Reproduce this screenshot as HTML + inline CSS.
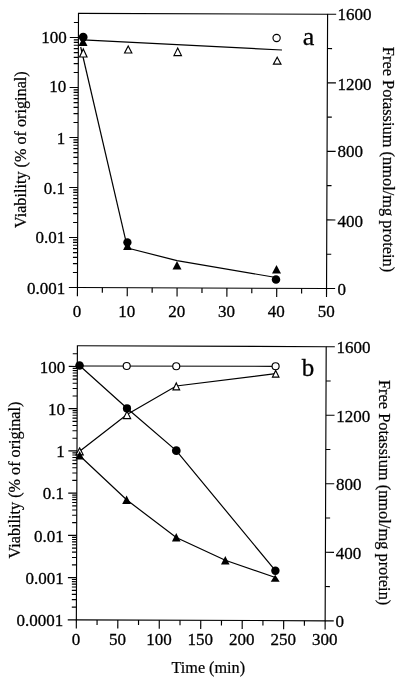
<!DOCTYPE html>
<html><head><meta charset="utf-8"><style>
html,body{margin:0;padding:0;background:#fff;width:400px;height:680px;overflow:hidden}
svg{display:block;filter:grayscale(1)}
text{font-family:"Liberation Serif",serif;fill:#000;stroke:#000;stroke-width:0.3px}
text.t{stroke-width:0.22px}
</style></head><body>
<svg width="400" height="680" viewBox="0 0 400 680">
<g transform="rotate(0.22 78.5 13.3)">
<rect x="78.5" y="13.3" width="249.1" height="274.25" fill="none" stroke="#000" stroke-width="1.15"/>
<line x1="78.50" y1="287.55" x2="78.50" y2="296.15" stroke="#000" stroke-width="1.15"/>
<line x1="128.32" y1="287.55" x2="128.32" y2="296.15" stroke="#000" stroke-width="1.15"/>
<line x1="178.14" y1="287.55" x2="178.14" y2="296.15" stroke="#000" stroke-width="1.15"/>
<line x1="227.96" y1="287.55" x2="227.96" y2="296.15" stroke="#000" stroke-width="1.15"/>
<line x1="277.78" y1="287.55" x2="277.78" y2="296.15" stroke="#000" stroke-width="1.15"/>
<line x1="327.60" y1="287.55" x2="327.60" y2="296.15" stroke="#000" stroke-width="1.15"/>
<line x1="103.41" y1="287.55" x2="103.41" y2="292.55" stroke="#000" stroke-width="1.15"/>
<line x1="153.23" y1="287.55" x2="153.23" y2="292.55" stroke="#000" stroke-width="1.15"/>
<line x1="203.05" y1="287.55" x2="203.05" y2="292.55" stroke="#000" stroke-width="1.15"/>
<line x1="252.87" y1="287.55" x2="252.87" y2="292.55" stroke="#000" stroke-width="1.15"/>
<line x1="302.69" y1="287.55" x2="302.69" y2="292.55" stroke="#000" stroke-width="1.15"/>
<line x1="69.90" y1="287.55" x2="78.50" y2="287.55" stroke="#000" stroke-width="1.15"/>
<line x1="73.90" y1="272.50" x2="78.50" y2="272.50" stroke="#000" stroke-width="1.15"/>
<line x1="73.90" y1="263.69" x2="78.50" y2="263.69" stroke="#000" stroke-width="1.15"/>
<line x1="73.90" y1="257.45" x2="78.50" y2="257.45" stroke="#000" stroke-width="1.15"/>
<line x1="73.90" y1="252.60" x2="78.50" y2="252.60" stroke="#000" stroke-width="1.15"/>
<line x1="73.90" y1="248.64" x2="78.50" y2="248.64" stroke="#000" stroke-width="1.15"/>
<line x1="73.90" y1="245.30" x2="78.50" y2="245.30" stroke="#000" stroke-width="1.15"/>
<line x1="73.90" y1="242.40" x2="78.50" y2="242.40" stroke="#000" stroke-width="1.15"/>
<line x1="73.90" y1="239.84" x2="78.50" y2="239.84" stroke="#000" stroke-width="1.15"/>
<line x1="69.90" y1="237.55" x2="78.50" y2="237.55" stroke="#000" stroke-width="1.15"/>
<line x1="73.90" y1="222.50" x2="78.50" y2="222.50" stroke="#000" stroke-width="1.15"/>
<line x1="73.90" y1="213.69" x2="78.50" y2="213.69" stroke="#000" stroke-width="1.15"/>
<line x1="73.90" y1="207.45" x2="78.50" y2="207.45" stroke="#000" stroke-width="1.15"/>
<line x1="73.90" y1="202.60" x2="78.50" y2="202.60" stroke="#000" stroke-width="1.15"/>
<line x1="73.90" y1="198.64" x2="78.50" y2="198.64" stroke="#000" stroke-width="1.15"/>
<line x1="73.90" y1="195.30" x2="78.50" y2="195.30" stroke="#000" stroke-width="1.15"/>
<line x1="73.90" y1="192.40" x2="78.50" y2="192.40" stroke="#000" stroke-width="1.15"/>
<line x1="73.90" y1="189.84" x2="78.50" y2="189.84" stroke="#000" stroke-width="1.15"/>
<line x1="69.90" y1="187.55" x2="78.50" y2="187.55" stroke="#000" stroke-width="1.15"/>
<line x1="73.90" y1="172.50" x2="78.50" y2="172.50" stroke="#000" stroke-width="1.15"/>
<line x1="73.90" y1="163.69" x2="78.50" y2="163.69" stroke="#000" stroke-width="1.15"/>
<line x1="73.90" y1="157.45" x2="78.50" y2="157.45" stroke="#000" stroke-width="1.15"/>
<line x1="73.90" y1="152.60" x2="78.50" y2="152.60" stroke="#000" stroke-width="1.15"/>
<line x1="73.90" y1="148.64" x2="78.50" y2="148.64" stroke="#000" stroke-width="1.15"/>
<line x1="73.90" y1="145.30" x2="78.50" y2="145.30" stroke="#000" stroke-width="1.15"/>
<line x1="73.90" y1="142.40" x2="78.50" y2="142.40" stroke="#000" stroke-width="1.15"/>
<line x1="73.90" y1="139.84" x2="78.50" y2="139.84" stroke="#000" stroke-width="1.15"/>
<line x1="69.90" y1="137.55" x2="78.50" y2="137.55" stroke="#000" stroke-width="1.15"/>
<line x1="73.90" y1="122.50" x2="78.50" y2="122.50" stroke="#000" stroke-width="1.15"/>
<line x1="73.90" y1="113.69" x2="78.50" y2="113.69" stroke="#000" stroke-width="1.15"/>
<line x1="73.90" y1="107.45" x2="78.50" y2="107.45" stroke="#000" stroke-width="1.15"/>
<line x1="73.90" y1="102.60" x2="78.50" y2="102.60" stroke="#000" stroke-width="1.15"/>
<line x1="73.90" y1="98.64" x2="78.50" y2="98.64" stroke="#000" stroke-width="1.15"/>
<line x1="73.90" y1="95.30" x2="78.50" y2="95.30" stroke="#000" stroke-width="1.15"/>
<line x1="73.90" y1="92.40" x2="78.50" y2="92.40" stroke="#000" stroke-width="1.15"/>
<line x1="73.90" y1="89.84" x2="78.50" y2="89.84" stroke="#000" stroke-width="1.15"/>
<line x1="69.90" y1="87.55" x2="78.50" y2="87.55" stroke="#000" stroke-width="1.15"/>
<line x1="73.90" y1="72.50" x2="78.50" y2="72.50" stroke="#000" stroke-width="1.15"/>
<line x1="73.90" y1="63.69" x2="78.50" y2="63.69" stroke="#000" stroke-width="1.15"/>
<line x1="73.90" y1="57.45" x2="78.50" y2="57.45" stroke="#000" stroke-width="1.15"/>
<line x1="73.90" y1="52.60" x2="78.50" y2="52.60" stroke="#000" stroke-width="1.15"/>
<line x1="73.90" y1="48.64" x2="78.50" y2="48.64" stroke="#000" stroke-width="1.15"/>
<line x1="73.90" y1="45.30" x2="78.50" y2="45.30" stroke="#000" stroke-width="1.15"/>
<line x1="73.90" y1="42.40" x2="78.50" y2="42.40" stroke="#000" stroke-width="1.15"/>
<line x1="73.90" y1="39.84" x2="78.50" y2="39.84" stroke="#000" stroke-width="1.15"/>
<line x1="69.90" y1="37.55" x2="78.50" y2="37.55" stroke="#000" stroke-width="1.15"/>
<line x1="73.90" y1="22.50" x2="78.50" y2="22.50" stroke="#000" stroke-width="1.15"/>
<line x1="327.60" y1="287.55" x2="336.20" y2="287.55" stroke="#000" stroke-width="1.15"/>
<line x1="327.60" y1="218.99" x2="336.20" y2="218.99" stroke="#000" stroke-width="1.15"/>
<line x1="327.60" y1="150.43" x2="336.20" y2="150.43" stroke="#000" stroke-width="1.15"/>
<line x1="327.60" y1="81.86" x2="336.20" y2="81.86" stroke="#000" stroke-width="1.15"/>
<line x1="327.60" y1="13.30" x2="336.20" y2="13.30" stroke="#000" stroke-width="1.15"/>
<line x1="327.60" y1="253.27" x2="332.20" y2="253.27" stroke="#000" stroke-width="1.15"/>
<line x1="327.60" y1="184.71" x2="332.20" y2="184.71" stroke="#000" stroke-width="1.15"/>
<line x1="327.60" y1="116.14" x2="332.20" y2="116.14" stroke="#000" stroke-width="1.15"/>
<line x1="327.60" y1="47.58" x2="332.20" y2="47.58" stroke="#000" stroke-width="1.15"/>
</g>
<text x="77.05" y="317.20" text-anchor="middle" font-size="17" >0</text>
<text x="126.87" y="317.20" text-anchor="middle" font-size="17" >10</text>
<text x="176.69" y="317.20" text-anchor="middle" font-size="17" >20</text>
<text x="226.51" y="317.20" text-anchor="middle" font-size="17" >30</text>
<text x="276.33" y="317.20" text-anchor="middle" font-size="17" >40</text>
<text x="326.15" y="317.20" text-anchor="middle" font-size="17" >50</text>
<text x="66.71" y="42.55" text-anchor="end" font-size="17" >100</text>
<text x="66.31" y="92.25" text-anchor="end" font-size="17" >10</text>
<text x="65.22" y="143.75" text-anchor="end" font-size="17" >1</text>
<text x="64.93" y="193.65" text-anchor="end" font-size="17" >0.1</text>
<text x="65.14" y="243.25" text-anchor="end" font-size="17" >0.01</text>
<text x="65.15" y="293.65" text-anchor="end" font-size="17" >0.001</text>
<text x="337.50" y="295.10" text-anchor="start" font-size="17" >0</text>
<text x="337.50" y="226.84" text-anchor="start" font-size="17" >400</text>
<text x="337.50" y="157.18" text-anchor="start" font-size="17" >800</text>
<text x="337.50" y="90.22" text-anchor="start" font-size="17" >1200</text>
<text x="337.50" y="20.06" text-anchor="start" font-size="17" >1600</text>
<text x="302.80" y="44.80" text-anchor="start" font-size="26" >a</text>
<line x1="83.00" y1="39.80" x2="282.00" y2="50.00" stroke="#000" stroke-width="1.2"/>
<polyline points="80.70,47.00 126.20,242.40" fill="none" stroke="#000" stroke-width="1.2"/>
<polyline points="127.40,248.00 177.00,260.60 276.00,277.50" fill="none" stroke="#000" stroke-width="1.2"/>
<polygon points="83.30,48.94 87.04,56.95 79.56,56.95" fill="#fff" stroke="#000" stroke-width="1.15" stroke-linejoin="miter" stroke-miterlimit="10"/>
<polygon points="128.20,45.94 131.84,52.95 124.56,52.95" fill="#fff" stroke="#000" stroke-width="1.15" stroke-linejoin="miter" stroke-miterlimit="10"/>
<polygon points="177.70,48.09 181.44,55.60 173.96,55.60" fill="#fff" stroke="#000" stroke-width="1.15" stroke-linejoin="miter" stroke-miterlimit="10"/>
<polygon points="277.20,57.29 280.99,64.20 273.41,64.20" fill="#fff" stroke="#000" stroke-width="1.15" stroke-linejoin="miter" stroke-miterlimit="10"/>
<circle cx="276.60" cy="38.00" r="3.62" fill="#fff" stroke="#000" stroke-width="1.15"/>
<polygon points="83.00,37.20 87.50,46.00 78.50,46.00" fill="#000"/>
<circle cx="83.20" cy="37.10" r="4.4" fill="#000"/>
<polygon points="127.50,241.50 131.90,250.10 123.10,250.10" fill="#000"/>
<circle cx="127.40" cy="242.40" r="4.15" fill="#000"/>
<polygon points="177.00,261.05 181.50,269.55 172.50,269.55" fill="#000"/>
<polygon points="276.50,265.05 281.00,273.55 272.00,273.55" fill="#000"/>
<circle cx="276.00" cy="279.50" r="4.25" fill="#000"/>
<g transform="rotate(0.22 77.4 345.75)">
<rect x="77.4" y="345.75" width="248.8" height="274.1" fill="none" stroke="#000" stroke-width="1.15"/>
<line x1="77.40" y1="619.85" x2="77.40" y2="628.45" stroke="#000" stroke-width="1.15"/>
<line x1="118.87" y1="619.85" x2="118.87" y2="628.45" stroke="#000" stroke-width="1.15"/>
<line x1="160.33" y1="619.85" x2="160.33" y2="628.45" stroke="#000" stroke-width="1.15"/>
<line x1="201.80" y1="619.85" x2="201.80" y2="628.45" stroke="#000" stroke-width="1.15"/>
<line x1="243.27" y1="619.85" x2="243.27" y2="628.45" stroke="#000" stroke-width="1.15"/>
<line x1="284.73" y1="619.85" x2="284.73" y2="628.45" stroke="#000" stroke-width="1.15"/>
<line x1="326.20" y1="619.85" x2="326.20" y2="628.45" stroke="#000" stroke-width="1.15"/>
<line x1="98.13" y1="619.85" x2="98.13" y2="624.85" stroke="#000" stroke-width="1.15"/>
<line x1="139.60" y1="619.85" x2="139.60" y2="624.85" stroke="#000" stroke-width="1.15"/>
<line x1="181.07" y1="619.85" x2="181.07" y2="624.85" stroke="#000" stroke-width="1.15"/>
<line x1="222.53" y1="619.85" x2="222.53" y2="624.85" stroke="#000" stroke-width="1.15"/>
<line x1="264.00" y1="619.85" x2="264.00" y2="624.85" stroke="#000" stroke-width="1.15"/>
<line x1="305.47" y1="619.85" x2="305.47" y2="624.85" stroke="#000" stroke-width="1.15"/>
<line x1="68.80" y1="619.85" x2="77.40" y2="619.85" stroke="#000" stroke-width="1.15"/>
<line x1="72.80" y1="607.14" x2="77.40" y2="607.14" stroke="#000" stroke-width="1.15"/>
<line x1="72.80" y1="599.70" x2="77.40" y2="599.70" stroke="#000" stroke-width="1.15"/>
<line x1="72.80" y1="594.43" x2="77.40" y2="594.43" stroke="#000" stroke-width="1.15"/>
<line x1="72.80" y1="590.33" x2="77.40" y2="590.33" stroke="#000" stroke-width="1.15"/>
<line x1="72.80" y1="586.99" x2="77.40" y2="586.99" stroke="#000" stroke-width="1.15"/>
<line x1="72.80" y1="584.16" x2="77.40" y2="584.16" stroke="#000" stroke-width="1.15"/>
<line x1="72.80" y1="581.71" x2="77.40" y2="581.71" stroke="#000" stroke-width="1.15"/>
<line x1="72.80" y1="579.55" x2="77.40" y2="579.55" stroke="#000" stroke-width="1.15"/>
<line x1="68.80" y1="577.62" x2="77.40" y2="577.62" stroke="#000" stroke-width="1.15"/>
<line x1="72.80" y1="564.91" x2="77.40" y2="564.91" stroke="#000" stroke-width="1.15"/>
<line x1="72.80" y1="557.47" x2="77.40" y2="557.47" stroke="#000" stroke-width="1.15"/>
<line x1="72.80" y1="552.20" x2="77.40" y2="552.20" stroke="#000" stroke-width="1.15"/>
<line x1="72.80" y1="548.10" x2="77.40" y2="548.10" stroke="#000" stroke-width="1.15"/>
<line x1="72.80" y1="544.76" x2="77.40" y2="544.76" stroke="#000" stroke-width="1.15"/>
<line x1="72.80" y1="541.93" x2="77.40" y2="541.93" stroke="#000" stroke-width="1.15"/>
<line x1="72.80" y1="539.48" x2="77.40" y2="539.48" stroke="#000" stroke-width="1.15"/>
<line x1="72.80" y1="537.32" x2="77.40" y2="537.32" stroke="#000" stroke-width="1.15"/>
<line x1="68.80" y1="535.39" x2="77.40" y2="535.39" stroke="#000" stroke-width="1.15"/>
<line x1="72.80" y1="522.68" x2="77.40" y2="522.68" stroke="#000" stroke-width="1.15"/>
<line x1="72.80" y1="515.24" x2="77.40" y2="515.24" stroke="#000" stroke-width="1.15"/>
<line x1="72.80" y1="509.97" x2="77.40" y2="509.97" stroke="#000" stroke-width="1.15"/>
<line x1="72.80" y1="505.87" x2="77.40" y2="505.87" stroke="#000" stroke-width="1.15"/>
<line x1="72.80" y1="502.53" x2="77.40" y2="502.53" stroke="#000" stroke-width="1.15"/>
<line x1="72.80" y1="499.70" x2="77.40" y2="499.70" stroke="#000" stroke-width="1.15"/>
<line x1="72.80" y1="497.25" x2="77.40" y2="497.25" stroke="#000" stroke-width="1.15"/>
<line x1="72.80" y1="495.09" x2="77.40" y2="495.09" stroke="#000" stroke-width="1.15"/>
<line x1="68.80" y1="493.16" x2="77.40" y2="493.16" stroke="#000" stroke-width="1.15"/>
<line x1="72.80" y1="480.45" x2="77.40" y2="480.45" stroke="#000" stroke-width="1.15"/>
<line x1="72.80" y1="473.01" x2="77.40" y2="473.01" stroke="#000" stroke-width="1.15"/>
<line x1="72.80" y1="467.74" x2="77.40" y2="467.74" stroke="#000" stroke-width="1.15"/>
<line x1="72.80" y1="463.64" x2="77.40" y2="463.64" stroke="#000" stroke-width="1.15"/>
<line x1="72.80" y1="460.30" x2="77.40" y2="460.30" stroke="#000" stroke-width="1.15"/>
<line x1="72.80" y1="457.47" x2="77.40" y2="457.47" stroke="#000" stroke-width="1.15"/>
<line x1="72.80" y1="455.02" x2="77.40" y2="455.02" stroke="#000" stroke-width="1.15"/>
<line x1="72.80" y1="452.86" x2="77.40" y2="452.86" stroke="#000" stroke-width="1.15"/>
<line x1="68.80" y1="450.93" x2="77.40" y2="450.93" stroke="#000" stroke-width="1.15"/>
<line x1="72.80" y1="438.22" x2="77.40" y2="438.22" stroke="#000" stroke-width="1.15"/>
<line x1="72.80" y1="430.78" x2="77.40" y2="430.78" stroke="#000" stroke-width="1.15"/>
<line x1="72.80" y1="425.51" x2="77.40" y2="425.51" stroke="#000" stroke-width="1.15"/>
<line x1="72.80" y1="421.41" x2="77.40" y2="421.41" stroke="#000" stroke-width="1.15"/>
<line x1="72.80" y1="418.07" x2="77.40" y2="418.07" stroke="#000" stroke-width="1.15"/>
<line x1="72.80" y1="415.24" x2="77.40" y2="415.24" stroke="#000" stroke-width="1.15"/>
<line x1="72.80" y1="412.79" x2="77.40" y2="412.79" stroke="#000" stroke-width="1.15"/>
<line x1="72.80" y1="410.63" x2="77.40" y2="410.63" stroke="#000" stroke-width="1.15"/>
<line x1="68.80" y1="408.70" x2="77.40" y2="408.70" stroke="#000" stroke-width="1.15"/>
<line x1="72.80" y1="395.99" x2="77.40" y2="395.99" stroke="#000" stroke-width="1.15"/>
<line x1="72.80" y1="388.55" x2="77.40" y2="388.55" stroke="#000" stroke-width="1.15"/>
<line x1="72.80" y1="383.28" x2="77.40" y2="383.28" stroke="#000" stroke-width="1.15"/>
<line x1="72.80" y1="379.18" x2="77.40" y2="379.18" stroke="#000" stroke-width="1.15"/>
<line x1="72.80" y1="375.84" x2="77.40" y2="375.84" stroke="#000" stroke-width="1.15"/>
<line x1="72.80" y1="373.01" x2="77.40" y2="373.01" stroke="#000" stroke-width="1.15"/>
<line x1="72.80" y1="370.56" x2="77.40" y2="370.56" stroke="#000" stroke-width="1.15"/>
<line x1="72.80" y1="368.40" x2="77.40" y2="368.40" stroke="#000" stroke-width="1.15"/>
<line x1="68.80" y1="366.47" x2="77.40" y2="366.47" stroke="#000" stroke-width="1.15"/>
<line x1="72.80" y1="353.76" x2="77.40" y2="353.76" stroke="#000" stroke-width="1.15"/>
<line x1="326.20" y1="619.85" x2="334.80" y2="619.85" stroke="#000" stroke-width="1.15"/>
<line x1="326.20" y1="551.33" x2="334.80" y2="551.33" stroke="#000" stroke-width="1.15"/>
<line x1="326.20" y1="482.80" x2="334.80" y2="482.80" stroke="#000" stroke-width="1.15"/>
<line x1="326.20" y1="414.28" x2="334.80" y2="414.28" stroke="#000" stroke-width="1.15"/>
<line x1="326.20" y1="345.75" x2="334.80" y2="345.75" stroke="#000" stroke-width="1.15"/>
<line x1="326.20" y1="585.59" x2="330.80" y2="585.59" stroke="#000" stroke-width="1.15"/>
<line x1="326.20" y1="517.06" x2="330.80" y2="517.06" stroke="#000" stroke-width="1.15"/>
<line x1="326.20" y1="448.54" x2="330.80" y2="448.54" stroke="#000" stroke-width="1.15"/>
<line x1="326.20" y1="380.01" x2="330.80" y2="380.01" stroke="#000" stroke-width="1.15"/>
</g>
<text x="75.95" y="644.90" text-anchor="middle" font-size="17" >0</text>
<text x="117.41" y="644.90" text-anchor="middle" font-size="17" >50</text>
<text x="158.88" y="644.90" text-anchor="middle" font-size="17" >100</text>
<text x="200.35" y="644.90" text-anchor="middle" font-size="17" >150</text>
<text x="241.81" y="644.90" text-anchor="middle" font-size="17" >200</text>
<text x="283.28" y="644.90" text-anchor="middle" font-size="17" >250</text>
<text x="324.75" y="644.90" text-anchor="middle" font-size="17" >300</text>
<text x="65.22" y="373.47" text-anchor="end" font-size="17" >100</text>
<text x="65.06" y="414.50" text-anchor="end" font-size="17" >10</text>
<text x="64.70" y="457.23" text-anchor="end" font-size="17" >1</text>
<text x="64.03" y="499.36" text-anchor="end" font-size="17" >0.1</text>
<text x="63.87" y="541.59" text-anchor="end" font-size="17" >0.01</text>
<text x="63.71" y="583.82" text-anchor="end" font-size="17" >0.001</text>
<text x="63.25" y="625.85" text-anchor="end" font-size="17" >0.0001</text>
<text x="335.45" y="627.20" text-anchor="start" font-size="17" >0</text>
<text x="335.71" y="558.68" text-anchor="start" font-size="17" >400</text>
<text x="335.97" y="490.15" text-anchor="start" font-size="17" >800</text>
<text x="336.24" y="421.63" text-anchor="start" font-size="17" >1200</text>
<text x="336.50" y="353.11" text-anchor="start" font-size="17" >1600</text>
<text x="301.70" y="375.80" text-anchor="start" font-size="25" >b</text>
<polyline points="79.75,366.00 275.60,366.30" fill="none" stroke="#000" stroke-width="1.2"/>
<polyline points="80.00,451.00 127.00,414.50 176.25,386.00 275.60,373.60" fill="none" stroke="#000" stroke-width="1.2"/>
<polyline points="79.75,365.75 127.00,408.30 176.25,450.60 275.40,570.60" fill="none" stroke="#000" stroke-width="1.2"/>
<polyline points="80.00,456.00 126.60,499.80 176.25,537.50 225.30,560.30 275.40,577.50" fill="none" stroke="#000" stroke-width="1.2"/>
<circle cx="126.70" cy="366.00" r="3.52" fill="#fff" stroke="#000" stroke-width="1.15"/>
<circle cx="176.25" cy="366.25" r="3.52" fill="#fff" stroke="#000" stroke-width="1.15"/>
<circle cx="275.60" cy="366.25" r="3.52" fill="#fff" stroke="#000" stroke-width="1.15"/>
<polygon points="79.60,447.89 83.24,454.80 75.96,454.80" fill="#fff" stroke="#000" stroke-width="1.15" stroke-linejoin="miter" stroke-miterlimit="10"/>
<polygon points="127.00,411.29 130.64,418.60 123.36,418.60" fill="#fff" stroke="#000" stroke-width="1.15" stroke-linejoin="miter" stroke-miterlimit="10"/>
<polygon points="176.30,382.89 179.64,389.80 172.96,389.80" fill="#fff" stroke="#000" stroke-width="1.15" stroke-linejoin="miter" stroke-miterlimit="10"/>
<polygon points="275.70,370.39 278.94,377.10 272.46,377.10" fill="#fff" stroke="#000" stroke-width="1.15" stroke-linejoin="miter" stroke-miterlimit="10"/>
<polygon points="79.70,451.10 84.00,459.50 75.40,459.50" fill="#000"/>
<polygon points="126.60,495.60 131.00,504.00 122.20,504.00" fill="#000"/>
<polygon points="176.25,533.05 180.55,541.55 171.95,541.55" fill="#000"/>
<polygon points="225.30,556.05 229.60,564.55 221.00,564.55" fill="#000"/>
<polygon points="275.20,574.70 279.70,581.70 270.70,581.70" fill="#000"/>
<circle cx="79.55" cy="365.55" r="4.3" fill="#000"/>
<circle cx="127.00" cy="408.40" r="4.1" fill="#000"/>
<circle cx="176.30" cy="450.70" r="4.35" fill="#000"/>
<circle cx="275.40" cy="570.70" r="4.2" fill="#000"/>
<text x="0.00" y="0.00" text-anchor="middle" font-size="16.2" class="t" transform="translate(26.3,149.65) rotate(-90)">Viability (% of original)</text>
<text x="0.00" y="0.00" text-anchor="middle" font-size="16.4" class="t" transform="translate(382.5,159.5) rotate(90)">Free Potassium (nmol/mg protein)</text>
<text x="0.00" y="0.00" text-anchor="middle" font-size="16.2" class="t" transform="translate(19.9,480.05) rotate(-90)">Viability (% of original)</text>
<text x="0.00" y="0.00" text-anchor="middle" font-size="16.4" class="t" transform="translate(378.8,492.65) rotate(90)">Free Potassium (nmol/mg protein)</text>
<text x="208.30" y="673.00" text-anchor="middle" font-size="16.2" class="t">Time (min)</text>
</svg>
</body></html>
